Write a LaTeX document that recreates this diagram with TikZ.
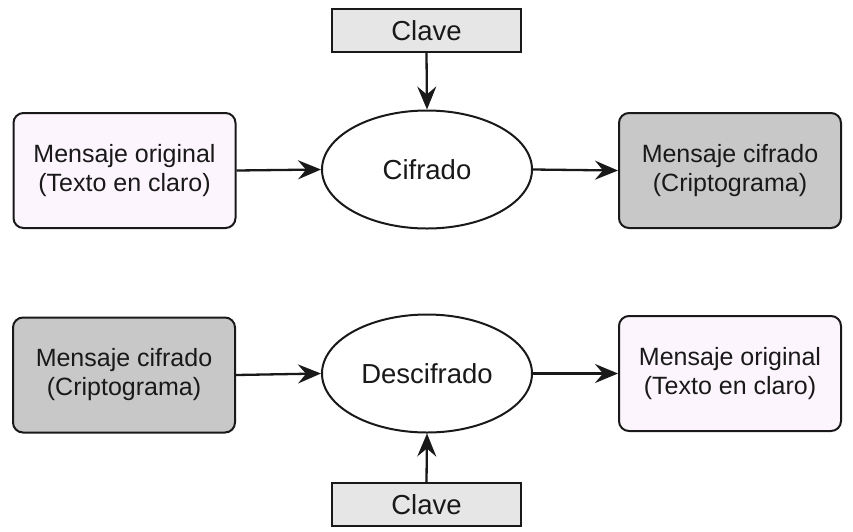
\documentclass[tikz,border=0pt]{standalone}
\usepackage{fontspec}
\setmainfont{Liberation Sans}
\usetikzlibrary{shapes.geometric,arrows.meta}
\definecolor{lightpink}{RGB}{253,245,253}
\definecolor{midgray}{RGB}{200,200,200}
\definecolor{keygray}{RGB}{230,230,230}
\definecolor{ink}{RGB}{25,25,25}
\begin{document}
\begin{tikzpicture}[x=1pt,y=-1pt,
  every node/.style={text=ink, align=center, inner sep=0pt},
  msgbox/.style={draw=ink, line width=2pt, rounded corners=10pt, minimum width=222pt, minimum height=115pt, font=\fontsize{25}{29}\selectfont},
  plainmsg/.style={msgbox, fill=lightpink},
  ciphermsg/.style={msgbox, fill=midgray},
  keybox/.style={draw=ink, line width=1.8pt, fill=keygray, minimum width=189pt, minimum height=43pt, font=\fontsize{27.5}{32}\selectfont},
  proc/.style={draw=ink, line width=2pt, ellipse, fill=white, minimum width=210pt, minimum height=118pt, font=\fontsize{27.5}{32}\selectfont},
  conn/.style={draw=ink, line width=2.3pt, -{Stealth[length=23pt,width=19pt,inset=8pt]}}]
\useasboundingbox (0,0) rectangle (853,531);
% top row
\node[plainmsg] (mo1) at (124.5,170.5) {Mensaje original\\(Texto en claro)};
\node[proc] (cif) at (427,169.5) {Cifrado};
\node[ciphermsg] (mc1) at (730,170.5) {Mensaje cifrado\\(Criptograma)};
\node[keybox] (k1) at (426.5,30.5) {Clave};
% bottom row
\node[ciphermsg] (mc2) at (124,375) {Mensaje cifrado\\(Criptograma)};
\node[proc] (desc) at (427,373.5) {Descifrado};
\node[plainmsg] (mo2) at (730,373.5) {Mensaje original\\(Texto en claro)};
\node[keybox] (k2) at (426.5,504.5) {Clave};
% connectors
\draw[conn] (mo1.east) -- (cif.west);
\draw[conn] (cif.east) -- (mc1.west);
\draw[conn] (k1.south) -- (cif.north);
\draw[conn] (mc2.east) -- (desc.west);
\draw[conn] (desc.east) -- (mo2.west);
\draw[conn] (k2.north) -- (desc.south);
\end{tikzpicture}
\end{document}
